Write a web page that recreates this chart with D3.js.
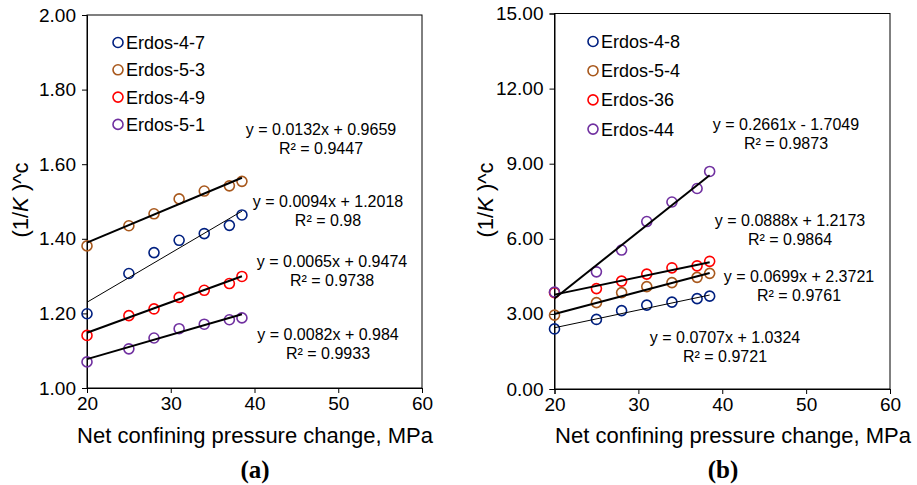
<!DOCTYPE html>
<html><head><meta charset="utf-8">
<script src="https://cdn.jsdelivr.net/npm/d3@7"></script>
<style>
body{margin:0;background:#fff;}
svg{display:block;font-family:"Liberation Sans",Arial,sans-serif;}
</style></head>
<body><svg id="c" width="917" height="485"></svg>
<script>
// ---- data ----
const xValues = [20, 25, 28, 31, 34, 37, 38.5];
const xTicks = [20, 30, 40, 50, 60];

// Panel (a)
const namesA = ["Erdos-4-7", "Erdos-5-3", "Erdos-4-9", "Erdos-5-1"];
const erdos47 = [1.199, 1.307, 1.363, 1.396, 1.414, 1.436, 1.464];
const erdos53 = [1.381, 1.435, 1.467, 1.507, 1.528, 1.542, 1.554];
const erdos49 = [1.141, 1.194, 1.212, 1.243, 1.262, 1.280, 1.299];
const erdos51 = [1.070, 1.105, 1.134, 1.159, 1.171, 1.183, 1.188];
const slopesA = [0.0132, 0.0094, 0.0082, 0.0065];
const interceptsA = [0.9659, 1.2018, 0.984, 0.9474];
const eqA = ["y = 0.0132x + 0.9659", "y = 0.0094x + 1.2018", "y = 0.0082x + 0.984", "y = 0.0065x + 0.9474"];
const r2A = ["R² = 0.9447", "R² = 0.98", "R² = 0.9933", "R² = 0.9738"];
const yTicksA = [1.00, 1.20, 1.40, 1.60, 1.80, 2.00];

// Panel (b)
const namesB = ["Erdos-4-8", "Erdos-5-4", "Erdos-36", "Erdos-44"];
const erdos48 = [2.40, 2.78, 3.13, 3.35, 3.47, 3.61, 3.71];
const erdos54 = [2.95, 3.45, 3.85, 4.09, 4.25, 4.46, 4.62];
const erdos36 = [3.85, 4.01, 4.31, 4.59, 4.84, 4.92, 5.10];
const erdos44 = [3.87, 4.68, 5.55, 6.69, 7.47, 8.01, 8.69];
const slopesB = [0.0707, 0.0888, 0.0699, 0.2661];
const interceptsB = [1.0324, 1.2173, 2.3721, -1.7049];
const eqB = ["y = 0.0707x + 1.0324", "y = 0.0888x + 1.2173", "y = 0.0699x + 2.3721", "y = 0.2661x - 1.7049"];
const r2B = ["R² = 0.9721", "R² = 0.9864", "R² = 0.9761", "R² = 0.9873"];
const yTicksB = [0, 3, 6, 9, 12, 15];

const colors = ["#002080", "#a8581c", "#ff0000", "#7030a0"];
const fitRange = [20, 38.5];

// ---- layout ----
const svg = d3.select("#c");

function panel(cfg) {
  const g = svg.append("g");
  const x = d3.scaleLinear().domain([20, 60]).range([cfg.x0, cfg.x1]);
  const y = d3.scaleLinear().domain(cfg.yDomain).range([cfg.y0, cfg.y1]);

  // frame
  g.append("rect").attr("x", cfg.x0).attr("y", cfg.y1)
    .attr("width", cfg.x1 - cfg.x0).attr("height", cfg.y0 - cfg.y1)
    .attr("fill", "none").attr("stroke", "#000").attr("stroke-width", 1);

  const ax = g.append("g").attr("transform", `translate(0,${cfg.y0})`)
    .call(d3.axisBottom(x).tickValues(xTicks).tickSize(5).tickPadding(4).tickFormat(d3.format("d")));
  const ay = g.append("g").attr("transform", `translate(${cfg.x0},0)`)
    .call(d3.axisLeft(y).tickValues(cfg.yTicks).tickSize(5).tickPadding(6).tickFormat(d3.format(".2f")));
  [ax, ay].forEach(a => {
    a.select(".domain").attr("stroke", "#000");
    a.selectAll("line").attr("stroke", "#000");
    a.selectAll("text").attr("font-size", 19).attr("fill", "#000")
      .attr("font-family", '"Liberation Sans",Arial,sans-serif');
  });

  // markers
  cfg.series.forEach((s, i) => {
    g.append("g").selectAll("circle").data(s).join("circle")
      .attr("cx", (d, j) => x(xValues[j])).attr("cy", d => y(d)).attr("r", 5)
      .attr("fill", "none").attr("stroke", colors[i]).attr("stroke-width", 1.6);
  });

  // trendlines
  cfg.slopes.forEach((m, i) => {
    const b = cfg.intercepts[i];
    g.append("line")
      .attr("x1", x(fitRange[0])).attr("y1", y(m * fitRange[0] + b))
      .attr("x2", x(fitRange[1])).attr("y2", y(m * fitRange[1] + b))
      .attr("stroke", "#000").attr("stroke-width", i === 0 ? 1 : 2);
  });

  // equation labels
  cfg.eqPos.forEach((p, i) => {
    g.append("text").attr("x", p[0]).attr("y", p[1]).attr("text-anchor", "middle")
      .attr("font-size", 16).text(cfg.eq[i]);
    g.append("text").attr("x", p[0]).attr("y", p[1] + 18.5).attr("text-anchor", "middle")
      .attr("font-size", 16).text(cfg.r2[i]);
  });

  // legend
  cfg.names.forEach((n, i) => {
    const ly = cfg.legY + i * cfg.legStep;
    g.append("circle").attr("cx", cfg.legX).attr("cy", ly).attr("r", 5)
      .attr("fill", "none").attr("stroke", colors[i]).attr("stroke-width", 1.6);
    g.append("text").attr("x", cfg.legX + 8).attr("y", ly + 6.5)
      .attr("font-size", 18).text(n);
  });

  // axis titles
  g.append("text").attr("x", cfg.xTitleX).attr("y", 443).attr("text-anchor", "middle")
    .attr("font-size", 22).text("Net confining pressure change, MPa");
  const yt = g.append("text")
    .attr("transform", `translate(${cfg.yTitleX},200) rotate(-90)`)
    .attr("text-anchor", "middle").attr("font-size", 22);
  yt.append("tspan").text("(1/");
  yt.append("tspan").attr("font-style", "italic").text("K");
  yt.append("tspan").text(" )^c");

  g.append("text").attr("x", cfg.capX).attr("y", 478).attr("text-anchor", "middle")
    .attr("font-family", '"Liberation Serif","Times New Roman",serif')
    .attr("font-weight", "bold").attr("font-size", 25).text(cfg.cap);
}

panel({
  x0: 87, x1: 422, y0: 388, y1: 15, yDomain: [1, 2], yTicks: yTicksA,
  series: [erdos47, erdos53, erdos49, erdos51],
  slopes: slopesA, intercepts: interceptsA, eq: eqA, r2: r2A,
  eqPos: [[321, 135], [328, 207], [328, 340], [332, 267]],
  names: namesA, legX: 118, legY: 42.5, legStep: 27.3,
  xTitleX: 255, yTitleX: 28, capX: 255, cap: "(a)"
});

panel({
  x0: 554.5, x1: 890, y0: 389, y1: 13.5, yDomain: [0, 15], yTicks: yTicksB,
  series: [erdos48, erdos54, erdos36, erdos44],
  slopes: slopesB, intercepts: interceptsB, eq: eqB, r2: r2B,
  eqPos: [[725, 343], [790, 226], [799, 282], [786, 130]],
  names: namesB, legX: 593, legY: 41.5, legStep: 29.2,
  xTitleX: 733, yTitleX: 493, capX: 723, cap: "(b)"
});
</script>
</body></html>
